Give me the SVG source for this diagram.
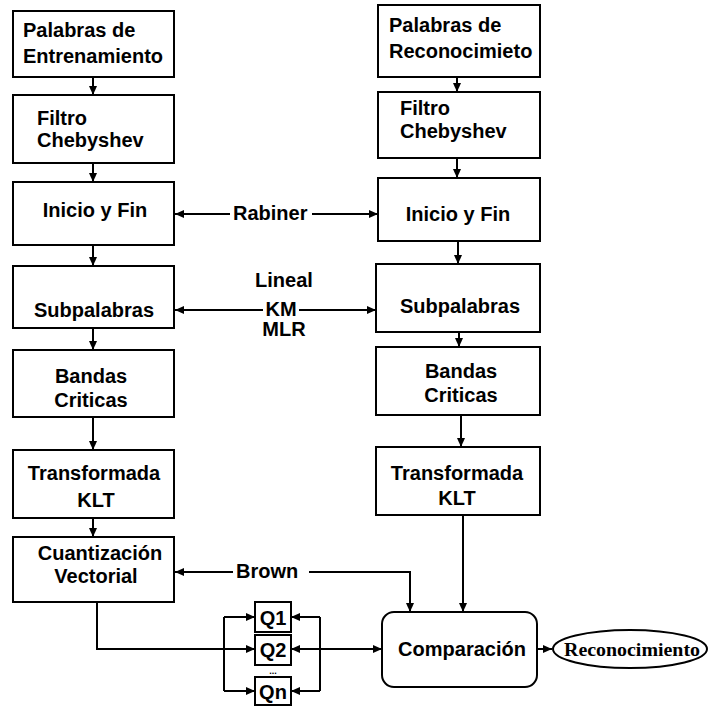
<svg xmlns="http://www.w3.org/2000/svg" width="708" height="706" viewBox="0 0 708 706">
<style>
.box{fill:#fff;stroke:#000;stroke-width:2}
.t{font-family:"Liberation Sans",Arial,sans-serif;font-weight:bold;font-size:20px;fill:#000}
.c{text-anchor:middle}
.ln{fill:none;stroke:#000;stroke-width:2}
.ar{fill:none;stroke:#000;stroke-width:2;marker-end:url(#ah)}
</style>
<defs>
<marker id="ah" markerUnits="userSpaceOnUse" markerWidth="10" markerHeight="8" refX="9" refY="4" orient="auto">
<path d="M0,0 L9,4 L0,8 z" fill="#000"/>
</marker>
</defs>
<rect width="708" height="706" fill="#fff"/>

<g id="connectors">
<line class="ar" x1="93" y1="77" x2="93" y2="95"/>
<line class="ar" x1="93" y1="163" x2="93" y2="182"/>
<line class="ar" x1="93" y1="245" x2="93" y2="266"/>
<line class="ar" x1="93" y1="328" x2="93" y2="350"/>
<line class="ar" x1="93" y1="417" x2="93" y2="450"/>
<line class="ar" x1="93" y1="518" x2="93" y2="537"/>
<line class="ar" x1="457" y1="77" x2="457" y2="92"/>
<line class="ar" x1="457" y1="158" x2="457" y2="178"/>
<line class="ar" x1="458" y1="241" x2="458" y2="264"/>
<line class="ar" x1="459" y1="332" x2="459" y2="347"/>
<line class="ar" x1="461" y1="415" x2="461" y2="447"/>
<line class="ar" x1="463" y1="515" x2="463" y2="612"/>
<line class="ar" x1="230" y1="214" x2="175" y2="214"/>
<line class="ar" x1="312" y1="214" x2="378" y2="214"/>
<line class="ar" x1="263" y1="310" x2="175" y2="310"/>
<line class="ar" x1="299" y1="310" x2="376" y2="310"/>
<line class="ar" x1="233" y1="572" x2="175" y2="572"/>
<path class="ar" d="M309,572 H410 V612"/>
<path class="ar" d="M97,602 V649 H255"/>
<line class="ln" x1="224" y1="617" x2="224" y2="691"/>
<line class="ar" x1="224" y1="617" x2="255" y2="617"/>
<line class="ar" x1="224" y1="691" x2="255" y2="691"/>
<line class="ln" x1="320" y1="617" x2="320" y2="691"/>
<line class="ar" x1="320" y1="617" x2="291" y2="617"/>
<line class="ar" x1="320" y1="649" x2="291" y2="649"/>
<line class="ar" x1="320" y1="691" x2="291" y2="691"/>
<line class="ar" x1="320" y1="649" x2="382" y2="649"/>
<line class="ar" x1="537" y1="649" x2="552" y2="649"/>
<text class="t" x="233" y="220">Rabiner</text>
<text class="t c" x="284" y="287">Lineal</text>
<text class="t c" x="281" y="316">KM</text>
<text class="t c" x="284" y="336">MLR</text>
<text class="t" x="236" y="578">Brown</text>
</g>

<g id="palabras-entrenamiento">
<rect class="box" x="13" y="11" width="161" height="66"/>
<text class="t" x="23" y="37">Palabras de</text>
<text class="t" x="23" y="63">Entrenamiento</text>
</g>
<g id="filtro-izq">
<rect class="box" x="13" y="95" width="161" height="68"/>
<text class="t" x="37" y="125">Filtro</text>
<text class="t" x="37" y="147">Chebyshev</text>
</g>
<g id="inicio-izq">
<rect class="box" x="13" y="182" width="161" height="63"/>
<text class="t c" x="95" y="217">Inicio y Fin</text>
</g>
<g id="subpalabras-izq">
<rect class="box" x="13" y="266" width="161" height="62"/>
<text class="t c" x="94" y="317">Subpalabras</text>
</g>
<g id="bandas-izq">
<rect class="box" x="13" y="350" width="161" height="67"/>
<text class="t c" x="91" y="383">Bandas</text>
<text class="t c" x="91" y="407">Criticas</text>
</g>
<g id="klt-izq">
<rect class="box" x="13" y="450" width="161" height="68"/>
<text class="t c" x="94" y="480">Transformada</text>
<text class="t c" x="96" y="507">KLT</text>
</g>
<g id="cuantizacion">
<rect class="box" x="13" y="537" width="161" height="65"/>
<text class="t c" x="100" y="560">Cuantización</text>
<text class="t c" x="96" y="583">Vectorial</text>
</g>

<g id="palabras-reconocimiento">
<rect class="box" x="378" y="5" width="162" height="72"/>
<text class="t" x="389" y="32">Palabras de</text>
<text class="t" x="389" y="58">Reconocimieto</text>
</g>
<g id="filtro-der">
<rect class="box" x="378" y="92" width="162" height="66"/>
<text class="t" x="400" y="115">Filtro</text>
<text class="t" x="400" y="138">Chebyshev</text>
</g>
<g id="inicio-der">
<rect class="box" x="378" y="178" width="162" height="63"/>
<text class="t c" x="458" y="221">Inicio y Fin</text>
</g>
<g id="subpalabras-der">
<rect class="box" x="376" y="264" width="164" height="68"/>
<text class="t c" x="460" y="313">Subpalabras</text>
</g>
<g id="bandas-der">
<rect class="box" x="376" y="347" width="164" height="68"/>
<text class="t c" x="461" y="378">Bandas</text>
<text class="t c" x="461" y="402">Criticas</text>
</g>
<g id="klt-der">
<rect class="box" x="376" y="447" width="164" height="68"/>
<text class="t c" x="457" y="480">Transformada</text>
<text class="t c" x="457" y="505">KLT</text>
</g>

<g id="q1">
<rect class="box" x="255" y="602" width="36" height="30"/>
<text class="t c" x="273" y="625">Q1</text>
</g>
<g id="q2">
<rect class="box" x="255" y="635" width="36" height="30"/>
<text class="t c" x="273" y="657">Q2</text>
</g>
<text class="t c" x="273" y="674" style="font-size:9px">...</text>
<g id="qn">
<rect class="box" x="255" y="677" width="36" height="28"/>
<text class="t c" x="273" y="699">Qn</text>
</g>

<g id="comparacion">
<rect class="box" x="382" y="612" width="155" height="75" rx="12"/>
<text class="t c" x="462" y="656">Comparación</text>
</g>
<g id="reconocimiento">
<ellipse class="box" cx="630" cy="649" rx="77" ry="19"/>
<text x="632" y="656" text-anchor="middle" textLength="136" lengthAdjust="spacingAndGlyphs" style="font-family:'Liberation Serif','Times New Roman',serif;font-weight:bold;font-size:19px">Reconocimiento</text>
</g>
</svg>
